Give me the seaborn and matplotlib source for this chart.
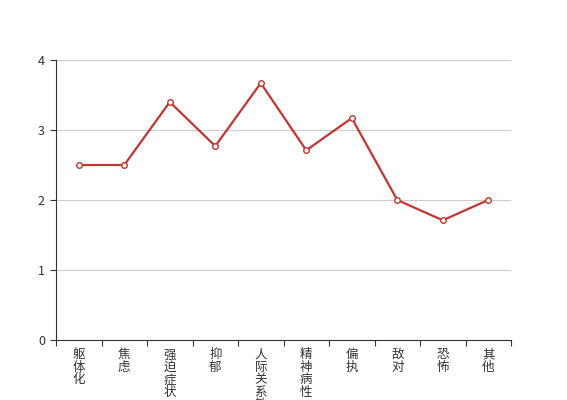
import numpy as np
import pandas as pd
import matplotlib
matplotlib.use("Agg")
import matplotlib.pyplot as plt
import seaborn as sns

# Data
categories = ["躯体化", "焦虑", "强迫症状", "抑郁", "人际关系敏感",
              "精神病性", "偏执", "敌对", "恐怖", "其他"]
scores = [2.5, 2.5, 3.4, 2.77, 3.67, 2.71, 3.17, 2.0, 1.71, 2.0]
y_ticks = [0, 1, 2, 3, 4]

df = pd.DataFrame({"pos": np.arange(len(categories)), "score": scores})

sns.set_style("white")
plt.rcParams['font.family'] = ['Noto Sans CJK SC', 'DejaVu Sans']

fig = plt.figure(figsize=(5.67, 4), dpi=100)
ax = fig.add_axes([56 / 567, 60 / 400, 455 / 567, 280 / 400])

sns.lineplot(data=df, x="pos", y="score", ax=ax, color="#c23531", linewidth=1.6,
             marker="o", markersize=4, markerfacecolor="white",
             markeredgecolor="#c23531", markeredgewidth=1, zorder=3)

ax.set_xlim(-0.5, len(categories) - 0.5)
ax.set_ylim(0, 4)
ax.set_yticks(y_ticks)
ax.yaxis.grid(True, color="#cccccc", linewidth=0.8)
ax.xaxis.grid(False)

# ticks on category boundaries, labels at centres
ax.set_xticks(np.arange(-0.5, len(categories), 1))
ax.set_xticklabels([])
ax.set_xticks(np.arange(len(categories)), minor=True)
ax.set_xticklabels(["\n".join(c) for c in categories], minor=True,
                   fontsize=9, color="#333333", linespacing=0.95, va="top")
ax.tick_params(axis="x", which="major", bottom=True, length=4, width=0.8,
               color="#333333", direction="out")
ax.tick_params(axis="x", which="minor", bottom=False, length=0, pad=6)
ax.tick_params(axis="y", left=True, length=4, width=0.8, color="#333333",
               direction="out", labelsize=9, labelcolor="#333333", pad=4)

for s in ["top", "right"]:
    ax.spines[s].set_visible(False)
for s in ["left", "bottom"]:
    ax.spines[s].set_color("#333333")
    ax.spines[s].set_linewidth(0.8)

ax.set_xlabel("")
ax.set_ylabel("")

fig.savefig("out.png", dpi=100)
